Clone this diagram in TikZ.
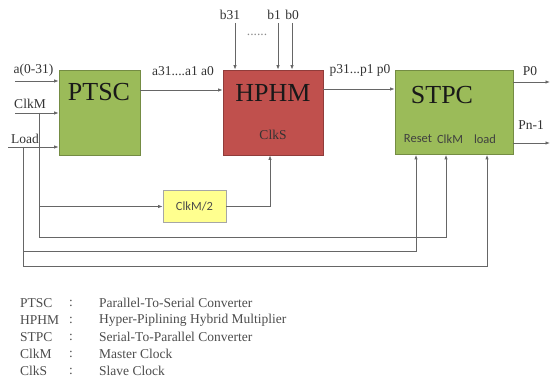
\documentclass[tikz,border=0pt]{standalone}
\usepackage{fontspec}
\setmainfont{Liberation Serif}
\newfontfamily\calibri{Carlito}
\usetikzlibrary{arrows.meta}
\usetikzlibrary{positioning}

\definecolor{boxgreen}{HTML}{9BBB59}
\definecolor{boxred}{HTML}{C0504D}
\definecolor{boxyellow}{HTML}{FFFF8F}

\begin{document}
\begin{tikzpicture}[x=1pt,y=-1pt,>={Latex[length=4.5pt,width=3.5pt]},font=\fontsize{13.5}{15}\selectfont,text=black!80]

    % Define styles
    \tikzstyle{block} = [rectangle, draw, line width=0.8pt, inner sep=0pt]
    \tikzstyle{title} = [font=\fontsize{26}{30}\selectfont, text=black!90]
    \tikzstyle{sans} = [font=\calibri\fontsize{12.5}{14}\selectfont, text=black!75, inner sep=0pt]
    \tikzstyle{wire} = [draw=black!60, line width=0.8pt]
    \tikzstyle{legend} = [anchor=west, inner sep=0pt, font=\fontsize{13.5}{15}\selectfont, text=black!70]

    \useasboundingbox (0,0) rectangle (551,387);

    % Blocks
    \node[block, fill=boxgreen, draw=boxgreen!75!black, minimum width=81pt, minimum height=85pt] (ptsc) at (99.5,112.5) {};
    \node[title] (ptsctxt) at (99,92) {PTSC};
    \node[block, fill=boxred, draw=boxred!75!black, minimum width=100pt, minimum height=85pt] (hphm) at (273,112.5) {};
    \node[title] (hphmtxt) at (273,93) {HPHM};
    \node (clks) at (273,135) {ClkS};
    \node[block, fill=boxgreen, draw=boxgreen!75!black, minimum width=118pt, minimum height=84pt] (stpc) at (454,112.5) {};
    \node[title] (stpctxt) at (442,95) {STPC};
    \node[sans] (rst) at (418,139) {Reset};
    \node[sans] (clkm) at (450,139) {ClkM};
    \node[sans] (ld) at (485,139) {load};
    \node[block, fill=boxyellow, draw=black!35, minimum width=63pt, minimum height=32pt, font=\calibri\fontsize{12.5}{14}\selectfont, text=black!70] (clkdiv) at (194.5,206.5) {ClkM/2};

    % Free ends
    \coordinate (ain) at (15,81);
    \coordinate (clkin) at (15,113);
    \coordinate (ldin) at (8,147);
    \coordinate (clktap) at (39,113);
    \coordinate (ldtap) at (23,147);
    \coordinate (bin31) at (235,23);
    \coordinate (bin1) at (278,23);
    \coordinate (bin0) at (292,23);
    \coordinate (pout0) at (550,82);
    \coordinate (poutn) at (550,143);

    % Inputs and data path
    \draw[wire,->] (ain) -- (ain -| ptsc.west);
    \draw[wire,->] (clkin) -- (clkin -| ptsc.west);
    \draw[wire,->] (ldin) -- (ldin -| ptsc.west);
    \draw[wire,->] ([yshift=22.5pt]ptsc.east) -- ([yshift=22.5pt]hphm.west);
    \draw[wire,->] ([yshift=23.5pt]hphm.east) -- ([yshift=23.5pt]stpc.west);
    \draw[wire,->] (bin31) -- (bin31 |- hphm.north);
    \draw[wire,->] (bin1) -- (bin1 |- hphm.north);
    \draw[wire,->] (bin0) -- (bin0 |- hphm.north);
    \draw[wire,->] ([yshift=30.5pt]stpc.east) -- (pout0);
    \draw[wire,->] ([yshift=-30.5pt]stpc.east) -- (poutn);

    % Clock and load lines
    \draw[wire,->] (clktap) |- (clkdiv.west);
    \draw[wire,->] (clkdiv.east) -| ([xshift=-3pt]hphm.south);
    \draw[wire,->] (clktap) -- ++(0,124) -| ([xshift=-8pt]stpc.south);
    \draw[wire,->] (ldtap) -- ++(0,104) -| ([xshift=-38pt]stpc.south);
    \draw[wire,->] (ldtap) -- ++(0,119) -| ([xshift=33pt]stpc.south);

    % Labels
    \node (alabel) at (33.5,70) {a(0-31)};
    \node (clklabel) at (30,104) {ClkM};
    \node (ldlabel) at (25,139) {Load};
    \node (abus) at (183,71) {a31....a1 a0};
    \node (b31) at (230,15) {b31};
    \node (b1) at (274,15) {b1};
    \node (b0) at (292,15) {b0};
    \node[text=black!45] (bdots) at (257,35) {......};
    \node (pbus) at (360,70) {p31...p1 p0};
    \node (p0) at (530,71) {P0};
    \node (pn) at (531,125) {Pn-1};

    % Legend
    \foreach \abbr/\desc [count=\i] in {PTSC/Parallel-To-Serial Converter, HPHM/Hyper-Piplining Hybrid Multiplier, STPC/Serial-To-Parallel Converter, ClkM/Master Clock, ClkS/Slave Clock} {
        \node[legend] (abbr\i) at (20,286+17*\i) {\abbr};
        \node[legend] (colon\i) at (69,286+17*\i) {:};
        \node[legend] (desc\i) at (99,286+17*\i) {\desc};
    }

\end{tikzpicture}
\end{document}
